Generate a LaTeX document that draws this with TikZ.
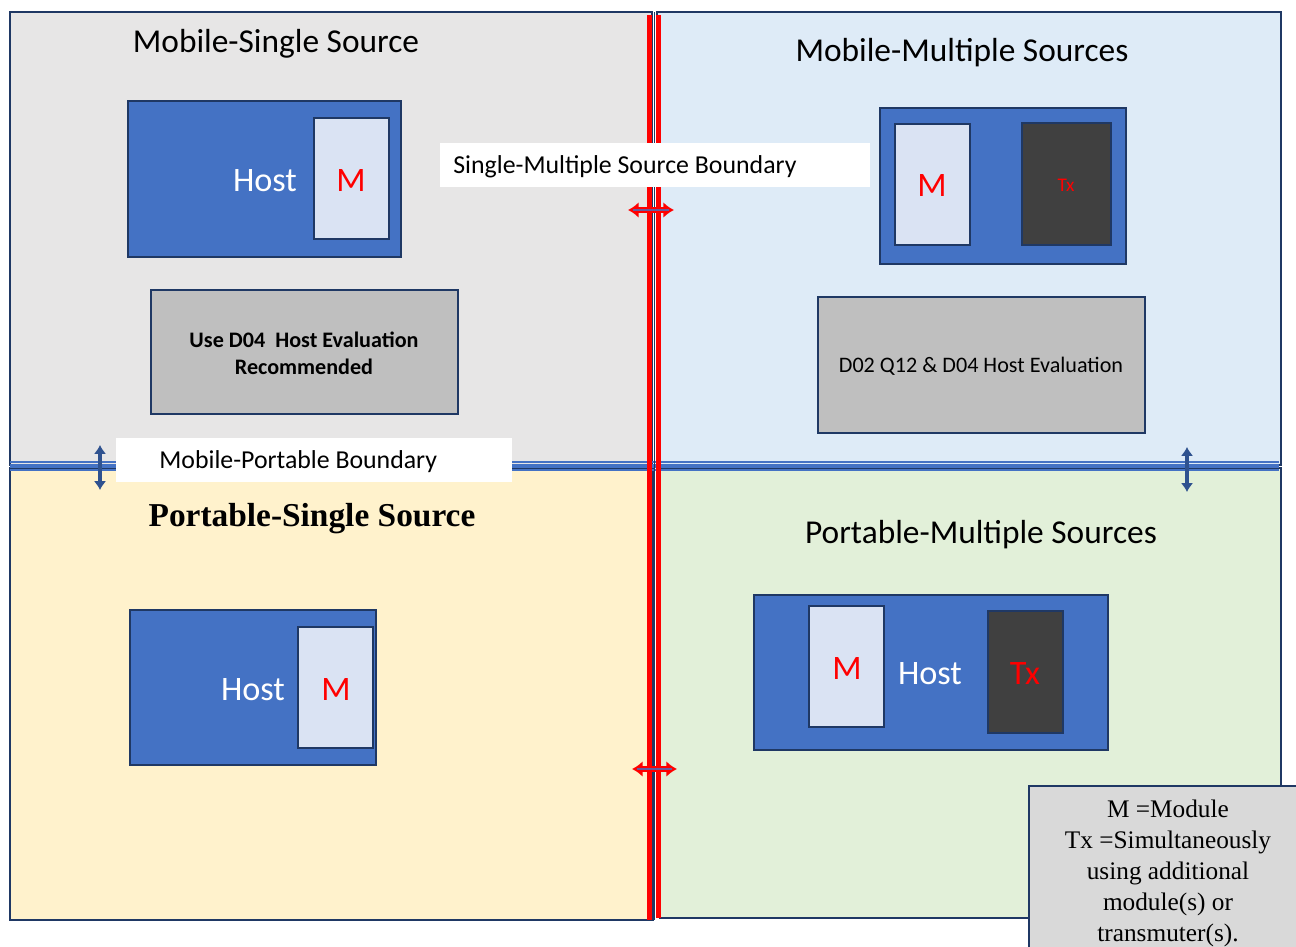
\documentclass[tikz,border=0pt]{standalone}
\usepackage{fontspec}
\setmainfont{Carlito}
\newfontfamily\tnr{Liberation Serif}
\usetikzlibrary{fit,arrows.meta}
\definecolor{qgrey}{HTML}{E7E6E6}
\definecolor{qblue}{HTML}{DEEBF7}
\definecolor{qyel}{HTML}{FFF2CC}
\definecolor{qgreen}{HTML}{E2F0D9}
\definecolor{hostblue}{HTML}{4472C4}
\definecolor{mfill}{HTML}{DAE3F3}
\definecolor{txfill}{HTML}{404040}
\definecolor{evgrey}{HTML}{BFBFBF}
\definecolor{leggrey}{HTML}{D9D9D9}
\definecolor{edge}{HTML}{1F3864}
\definecolor{arrblue}{HTML}{2F528F}
\begin{document}
\begin{tikzpicture}[x=0.02cm,y=-0.02cm,
  quad/.style={draw=edge, line width=0.9pt, inner sep=0pt},
  hostbox/.style={draw=edge, line width=1pt, fill=hostblue, inner sep=0pt},
  mbox/.style={draw=edge, line width=1pt, fill=mfill, inner sep=0pt},
  txbox/.style={draw=edge, line width=1pt, fill=txfill, inner sep=0pt},
  evbox/.style={draw=edge, line width=0.9pt, fill=evgrey, inner sep=0pt},
  lblbox/.style={fill=white, inner sep=0pt},
  title/.style={font=\fontsize{19}{23}\selectfont, inner sep=0pt},
  hosttxt/.style={font=\fontsize{19.5}{23}\selectfont, text=white, inner sep=0pt},
  mtxt/.style={font=\fontsize{19.5}{23}\selectfont, text=red, inner sep=0pt},
  lbltxt/.style={font=\fontsize{14.7}{18}\selectfont, inner sep=0pt},
  evtxt/.style={font=\fontsize{12.6}{15.3}\selectfont, inner sep=0pt, align=center},
  vbarrow/.style={draw=arrblue, line width=2pt, {Latex[length=5pt,width=7pt]}-{Latex[length=5pt,width=7pt]}},
  hrarrow/.style={draw=red, line width=3pt, {Latex[length=6pt,width=9pt]}-{Latex[length=6pt,width=9pt]}},
  hrarrowin/.style={draw=hostblue!80!red, line width=1.2pt, shorten <=3pt, shorten >=3pt},
]
\useasboundingbox (0,0) rectangle (1296,947);
\fill[white] (0,0) rectangle (1296,947);

% quadrants
\node[quad, fill=qgrey, fit={(10,12) (652,465)}] (qtl) {};
\node[quad, fill=qblue, fit={(657,12) (1281,465)}] (qtr) {};
\node[quad, fill=qyel, fit={(10,468) (653,920)}] (qbl) {};
\node[quad, fill=qgreen, fit={(660,468) (1281,918)}] (qbr) {};

% horizontal boundary (blue triple line)
\coordinate (hL) at (10,466);
\coordinate (hR) at (1279,466);
\draw[hostblue, line width=0.9pt] ([yshift=-4*0.02cm]hL) -- ([yshift=-4*0.02cm]hR);
\draw[hostblue, line width=2pt] (hL) -- (hR);
\draw[hostblue, line width=0.9pt] ([yshift=4*0.02cm]hL) -- ([yshift=4*0.02cm]hR);

% vertical boundary (red double line)
\fill[red] (647,15) rectangle (652,920);
\fill[red] (656,15) rectangle (661,918);
\draw[edge, line width=0.8pt] (654.5,12) -- (654.5,920);

% label boxes
\node[lblbox, fit={(440,143) (870,187)}] (smb) {};
\node[lbltxt, anchor=west] (smbt) at (453,167) {Single-Multiple Source Boundary};
\node[lblbox, fit={(116,438) (512,482)}] (mpb) {};
\node[lbltxt, anchor=west] (mpbt) at (159,462) {Mobile-Portable Boundary};

% vertical double arrows
\coordinate (va1) at (100,445);
\coordinate (vb1) at (100,490);
\draw[vbarrow] (va1) -- (vb1);
\coordinate (va2) at (1187,447);
\coordinate (vb2) at (1187,492);
\draw[vbarrow] (va2) -- (vb2);

% horizontal red arrows
\coordinate (ha1) at (628,210);
\coordinate (hb1) at (674,210);
\draw[hrarrow] (ha1) -- (hb1);
\draw[hrarrowin] (ha1) -- (hb1);
\coordinate (ha2) at (632,769);
\coordinate (hb2) at (677,769);
\draw[hrarrow] (ha2) -- (hb2);
\draw[hrarrowin] (ha2) -- (hb2);

% titles
\node[title] (t1) at (276,44) {Mobile-Single Source};
\node[title] (t2) at (962,53) {Mobile-Multiple Sources};
\node[inner sep=0pt, font=\tnr\bfseries\fontsize{19}{23}\selectfont] (t3) at (312,519) {Portable-Single Source};
\node[title] (t4) at (981,535) {Portable-Multiple Sources};

% top-left host
\node[hostbox, fit={(128,101) (401,257)}] (h1) {};
\node[mbox, fit={(314,118) (389,239)}] (m1) {};
\node[hosttxt] (h1t) at (265,181) {Host};
\node[mtxt] (m1t) at (351,181) {M};

% top-right host
\node[hostbox, fit={(880,108) (1126,264)}] (h2) {};
\node[mbox, fit={(895,124) (970,245)}] (m2) {};
\node[txbox, fit={(1022,123) (1111,245)}] (x2) {};
\node[mtxt] (m2t) at (932,186) {M};
\node[inner sep=0pt, text=red, font=\fontsize{11}{13}\selectfont] (x2t) at (1066,185) {Tx};

% bottom-left host
\node[hostbox, fit={(130,610) (376,765)}] (h3) {};
\node[mbox, fit={(298,627) (373,748)}] (m3) {};
\node[hosttxt] (h3t) at (253,690) {Host};
\node[mtxt] (m3t) at (336,690) {M};

% bottom-right host
\node[hostbox, fit={(754,595) (1108,750)}] (h4) {};
\node[mbox, fit={(809,606) (884,727)}] (m4) {};
\node[txbox, fit={(988,611) (1063,733)}] (x4) {};
\node[mtxt] (m4t) at (847,669) {M};
\node[hosttxt] (h4t) at (930,674) {Host};
\node[mtxt] (x4t) at (1025,674) {Tx};

% evaluation boxes
\node[evbox, fit={(151,290) (458,414)}] (e1) {};
\node[evtxt, font=\bfseries\fontsize{12.6}{15.3}\selectfont] (e1t) at (304,353) {Use D04\ \ Host Evaluation\\Recommended};
\node[evbox, fit={(818,297) (1145,433)}] (e2) {};
\node[evtxt] (e2t) at (981,366) {D02 Q12 \& D04 Host Evaluation};

% legend
\node[draw=edge, line width=0.9pt, fill=leggrey, inner sep=0pt, fit={(1029,786) (1300,950)}] (leg) {};
\node[inner sep=0pt, align=center, font=\tnr\fontsize{14.4}{17.6}\selectfont, anchor=north] (legt) at (1168,800)
  {M =Module\\Tx =Simultaneously\\using additional\\module(s) or\\transmuter(s).};
\end{tikzpicture}
\end{document}
